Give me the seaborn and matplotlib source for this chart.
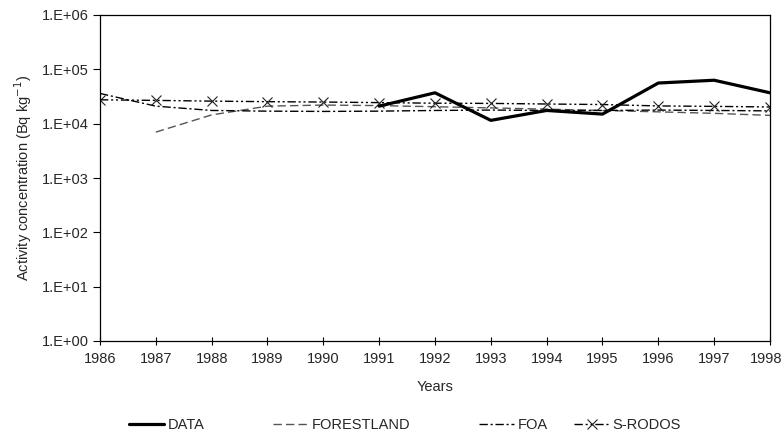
import matplotlib
matplotlib.use("Agg")
import matplotlib.pyplot as plt
import matplotlib.ticker as mticker
import matplotlib.transforms as mtransforms
import seaborn as sns
import pandas as pd
import numpy as np

years = [1986, 1987, 1988, 1989, 1990, 1991, 1992, 1993, 1994, 1995, 1996, 1997, 1998]
data_years = [1991, 1992, 1993, 1994, 1995, 1996, 1997, 1998]
data_vals = [2.1e4, 3.7e4, 1.15e4, 1.75e4, 1.5e4, 5.6e4, 6.3e4, 3.7e4]
forest_years = [1987, 1988, 1989, 1990, 1991, 1992, 1993, 1994, 1995, 1996, 1997, 1998]
forest_vals = [7.0e3, 1.45e4, 2.1e4, 2.2e4, 2.15e4, 2.05e4, 1.95e4, 1.85e4, 1.75e4, 1.65e4, 1.55e4, 1.42e4]
foa_vals = [3.6e4, 2.1e4, 1.75e4, 1.7e4, 1.68e4, 1.7e4, 1.75e4, 1.78e4, 1.75e4, 1.75e4, 1.78e4, 1.75e4, 1.72e4]
rodos_vals = [2.75e4, 2.68e4, 2.6e4, 2.54e4, 2.5e4, 2.44e4, 2.38e4, 2.36e4, 2.3e4, 2.25e4, 2.12e4, 2.08e4, 2.03e4]
yticks = [1e0, 1e1, 1e2, 1e3, 1e4, 1e5, 1e6]
labels = ["DATA", "FORESTLAND", "FOA", "S-RODOS"]

sns.set_theme(style="white")
plt.rcParams['font.family'] = ['Liberation Sans', 'DejaVu Sans']
FS = 10.5

fig = plt.figure(figsize=(7.83, 4.43), dpi=100)
ax = fig.add_axes([100/783, 1-341/443, 670/783, 326/443])

df_data = pd.DataFrame({"year": data_years, "val": data_vals})
df_forest = pd.DataFrame({"year": forest_years, "val": forest_vals})
df_foa = pd.DataFrame({"year": years, "val": foa_vals})
df_rodos = pd.DataFrame({"year": years, "val": rodos_vals})

sns.lineplot(data=df_forest, x="year", y="val", ax=ax, color="#555555", lw=1.0)
sns.lineplot(data=df_foa, x="year", y="val", ax=ax, color="black", lw=1.0)
sns.lineplot(data=df_rodos, x="year", y="val", ax=ax, color="black", lw=1.0,
             marker="x", markersize=7.5, markeredgewidth=0.8,
             markeredgecolor="#222222", markerfacecolor="#222222")
sns.lineplot(data=df_data, x="year", y="val", ax=ax, color="black", lw=2.3)

lines = ax.get_lines()
lines[0].set_dashes([6, 3])
lines[1].set_dashes([6, 2, 1.5, 2])
lines[2].set_dashes([6, 2, 1.5, 2, 1.5, 2])

ax.set_yscale("log")
ax.set_ylim(1, 1e6)
ax.set_xlim(1986, 1998)
ax.set_yticks(yticks)
ax.yaxis.set_major_formatter(mticker.FuncFormatter(lambda v, p: "1.E+%02d" % int(round(np.log10(v)))))
ax.yaxis.set_minor_locator(mticker.NullLocator())
ax.set_xticks(years)
ax.set_xticklabels([str(y) for y in years])

for s in ax.spines.values():
    s.set_color("black")
    s.set_linewidth(0.9)

ax.tick_params(axis="y", direction="out", length=5, width=0.8, color="black", labelsize=FS, pad=3, left=True)
ax.tick_params(axis="x", direction="inout", length=6, width=0.8, color="black", labelsize=FS, pad=5, bottom=True)

# keep the last year label inside the figure edge
last = ax.get_xticklabels()[-1]
last.set_transform(last.get_transform() + mtransforms.ScaledTranslation(-4/100, 0, fig.dpi_scale_trans))

ax.set_xlabel("Years", fontsize=FS, labelpad=10)
ax.set_ylabel("Activity concentration (Bq kg$^{-1}$)", fontsize=FS, labelpad=6)

handles = [lines[3], lines[0], lines[1], lines[2]]
xpos = [129, 273, 479, 574]
for h, lab, x in zip(handles, labels, xpos):
    fig.legend([h], [lab], loc="center left", bbox_to_anchor=(x/783, 1-425/443),
               frameon=False, fontsize=FS, handlelength=2.4, handletextpad=0.25,
               borderpad=0, borderaxespad=0)

fig.savefig("out.png", dpi=100)
